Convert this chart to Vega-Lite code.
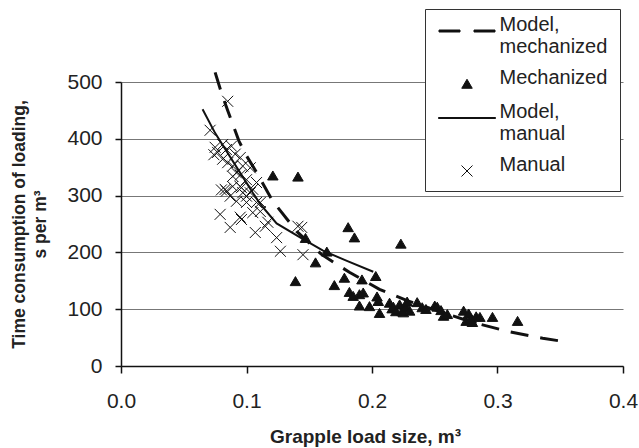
{
  "$schema": "https://vega.github.io/schema/vega-lite/v6.json",
  "width": 502,
  "height": 284,
  "autosize": {"type": "none"},
  "padding": {"left": 121, "top": 82, "right": 16, "bottom": 82},
  "background": "white",
  "config": {"view": {"stroke": null}, "font": "Liberation Sans"},
  "datasets": {
    "mech": [
      {"x": 0.075, "y": 517}, {"x": 0.080, "y": 481}, {"x": 0.0853, "y": 448}, {"x": 0.094, "y": 396},
      {"x": 0.100, "y": 370}, {"x": 0.108, "y": 341}, {"x": 0.121, "y": 290}, {"x": 0.140, "y": 237},
      {"x": 0.160, "y": 196}, {"x": 0.182, "y": 165}, {"x": 0.206, "y": 135}, {"x": 0.228, "y": 115},
      {"x": 0.254, "y": 96}, {"x": 0.280, "y": 77}, {"x": 0.310, "y": 60}, {"x": 0.336, "y": 49},
      {"x": 0.350, "y": 44}
    ],
    "man": [
      {"x": 0.065, "y": 452}, {"x": 0.075, "y": 410}, {"x": 0.085, "y": 375}, {"x": 0.095, "y": 340},
      {"x": 0.105, "y": 305}, {"x": 0.111, "y": 285}, {"x": 0.124, "y": 251}, {"x": 0.143, "y": 226},
      {"x": 0.161, "y": 203}, {"x": 0.180, "y": 185}, {"x": 0.201, "y": 166}
    ],
    "points": [
      {"series": "Mechanized", "x": 0.121, "y": 335}, {"series": "Mechanized", "x": 0.141, "y": 333},
      {"series": "Mechanized", "x": 0.147, "y": 225}, {"series": "Mechanized", "x": 0.139, "y": 149},
      {"series": "Mechanized", "x": 0.155, "y": 182}, {"series": "Mechanized", "x": 0.164, "y": 201},
      {"series": "Mechanized", "x": 0.170, "y": 142}, {"series": "Mechanized", "x": 0.178, "y": 155},
      {"series": "Mechanized", "x": 0.181, "y": 244}, {"series": "Mechanized", "x": 0.186, "y": 226},
      {"series": "Mechanized", "x": 0.182, "y": 130}, {"series": "Mechanized", "x": 0.185, "y": 123},
      {"series": "Mechanized", "x": 0.190, "y": 106}, {"series": "Mechanized", "x": 0.190, "y": 126},
      {"series": "Mechanized", "x": 0.192, "y": 152}, {"series": "Mechanized", "x": 0.193, "y": 129},
      {"series": "Mechanized", "x": 0.198, "y": 105}, {"series": "Mechanized", "x": 0.203, "y": 158},
      {"series": "Mechanized", "x": 0.204, "y": 122}, {"series": "Mechanized", "x": 0.205, "y": 114},
      {"series": "Mechanized", "x": 0.206, "y": 93}, {"series": "Mechanized", "x": 0.214, "y": 111},
      {"series": "Mechanized", "x": 0.216, "y": 101}, {"series": "Mechanized", "x": 0.217, "y": 104},
      {"series": "Mechanized", "x": 0.219, "y": 96}, {"series": "Mechanized", "x": 0.222, "y": 108},
      {"series": "Mechanized", "x": 0.223, "y": 215}, {"series": "Mechanized", "x": 0.224, "y": 96},
      {"series": "Mechanized", "x": 0.225, "y": 94}, {"series": "Mechanized", "x": 0.227, "y": 104},
      {"series": "Mechanized", "x": 0.228, "y": 113}, {"series": "Mechanized", "x": 0.230, "y": 97},
      {"series": "Mechanized", "x": 0.236, "y": 112}, {"series": "Mechanized", "x": 0.240, "y": 103},
      {"series": "Mechanized", "x": 0.243, "y": 100}, {"series": "Mechanized", "x": 0.250, "y": 106},
      {"series": "Mechanized", "x": 0.252, "y": 104}, {"series": "Mechanized", "x": 0.255, "y": 98},
      {"series": "Mechanized", "x": 0.257, "y": 88}, {"series": "Mechanized", "x": 0.260, "y": 91},
      {"series": "Mechanized", "x": 0.273, "y": 97}, {"series": "Mechanized", "x": 0.275, "y": 79},
      {"series": "Mechanized", "x": 0.277, "y": 92}, {"series": "Mechanized", "x": 0.279, "y": 83},
      {"series": "Mechanized", "x": 0.280, "y": 77}, {"series": "Mechanized", "x": 0.283, "y": 87},
      {"series": "Mechanized", "x": 0.286, "y": 86}, {"series": "Mechanized", "x": 0.296, "y": 86},
      {"series": "Mechanized", "x": 0.316, "y": 79},
      {"series": "Manual", "x": 0.085, "y": 466}, {"series": "Manual", "x": 0.071, "y": 415},
      {"series": "Manual", "x": 0.074, "y": 372}, {"series": "Manual", "x": 0.075, "y": 385},
      {"series": "Manual", "x": 0.077, "y": 376}, {"series": "Manual", "x": 0.081, "y": 390},
      {"series": "Manual", "x": 0.084, "y": 381}, {"series": "Manual", "x": 0.088, "y": 387},
      {"series": "Manual", "x": 0.091, "y": 373}, {"series": "Manual", "x": 0.081, "y": 364},
      {"series": "Manual", "x": 0.085, "y": 358}, {"series": "Manual", "x": 0.089, "y": 352},
      {"series": "Manual", "x": 0.095, "y": 367}, {"series": "Manual", "x": 0.097, "y": 352},
      {"series": "Manual", "x": 0.092, "y": 340}, {"series": "Manual", "x": 0.089, "y": 334},
      {"series": "Manual", "x": 0.095, "y": 336}, {"series": "Manual", "x": 0.100, "y": 328},
      {"series": "Manual", "x": 0.083, "y": 311}, {"series": "Manual", "x": 0.087, "y": 299},
      {"series": "Manual", "x": 0.089, "y": 316}, {"series": "Manual", "x": 0.095, "y": 316},
      {"series": "Manual", "x": 0.097, "y": 305}, {"series": "Manual", "x": 0.100, "y": 299},
      {"series": "Manual", "x": 0.105, "y": 311}, {"series": "Manual", "x": 0.108, "y": 288},
      {"series": "Manual", "x": 0.079, "y": 267}, {"series": "Manual", "x": 0.087, "y": 244},
      {"series": "Manual", "x": 0.096, "y": 258}, {"series": "Manual", "x": 0.107, "y": 235},
      {"series": "Manual", "x": 0.105, "y": 270}, {"series": "Manual", "x": 0.108, "y": 323},
      {"series": "Manual", "x": 0.103, "y": 349}, {"series": "Manual", "x": 0.084, "y": 308},
      {"series": "Manual", "x": 0.096, "y": 314}, {"series": "Manual", "x": 0.103, "y": 305},
      {"series": "Manual", "x": 0.111, "y": 288}, {"series": "Manual", "x": 0.100, "y": 288},
      {"series": "Manual", "x": 0.095, "y": 262}, {"series": "Manual", "x": 0.115, "y": 246},
      {"series": "Manual", "x": 0.124, "y": 226}, {"series": "Manual", "x": 0.127, "y": 202},
      {"series": "Manual", "x": 0.141, "y": 246}, {"series": "Manual", "x": 0.145, "y": 196},
      {"series": "Manual", "x": 0.111, "y": 272}, {"series": "Manual", "x": 0.117, "y": 253},
      {"series": "Manual", "x": 0.144, "y": 244}, {"series": "Manual", "x": 0.080, "y": 310},
      {"series": "Manual", "x": 0.092, "y": 290}
    ]
  },
  "encoding": {
    "x": {
      "field": "x", "type": "quantitative",
      "scale": {"domain": [0, 0.4], "nice": false, "zero": false},
      "axis": {
        "values": [0, 0.1, 0.2, 0.3, 0.4], "format": ".1f", "grid": false,
        "domainColor": "#111", "domainWidth": 1.5, "tickColor": "#111", "tickSize": 7, "tickWidth": 1.5,
        "labelFontSize": 21, "labelColor": "#222", "labelBaseline": "alphabetic", "labelPadding": 34,
        "labelFlush": false, "labelOverlap": false,
        "title": "Grapple load size, m³", "titleFontSize": 19, "titleFontWeight": "bold", "titleColor": "#222",
        "titleX": 244, "titleY": 76, "titleBaseline": "alphabetic", "titleAlign": "center"
      }
    },
    "y": {
      "field": "y", "type": "quantitative",
      "scale": {"domain": [0, 500], "nice": false},
      "axis": {
        "values": [0, 100, 200, 300, 400, 500], "grid": true, "gridColor": "#777", "gridWidth": 1,
        "domainColor": "#111", "domainWidth": 1.5, "tickColor": "#111", "tickSize": 6, "tickWidth": 1.5,
        "labelFontSize": 21, "labelColor": "#222", "labelPadding": 13,
        "title": ["Time consumption of loading,", "s per m³"], "titleFontSize": 17.5, "titleFontWeight": "bold",
        "titleColor": "#222", "titleX": -111, "titleY": 142, "titleAngle": -90, "titleBaseline": "top",
        "titleAlign": "center", "titleLineHeight": 21
      }
    }
  },
  "layer": [
    {
      "data": {"name": "mech"},
      "mark": {"type": "line", "color": "#111", "strokeWidth": 3, "strokeDash": [18, 12]}
    },
    {
      "data": {"name": "man"},
      "mark": {"type": "line", "color": "#111", "strokeWidth": 2}
    },
    {
      "data": {"name": "points"},
      "mark": {"type": "point", "filled": true, "fill": "#111", "stroke": "#111", "strokeWidth": 1, "opacity": 1, "size": 100},
      "encoding": {
        "shape": {
          "field": "series", "type": "nominal",
          "scale": {
            "domain": ["Model, mechanized", "Mechanized", "Model, manual", "Manual"],
            "range": [
              "M-5.6,-0.2H-1.4V0.2H-5.6ZM1.4,-0.2H5.6V0.2H1.4Z",
              "M0,-0.95L1.05,0.85L-1.05,0.85Z",
              "M-5.7,-0.1H5.7V0.1H-5.7Z",
              "M-1.1,-1.1L1.1,1.1M-1.1,1.1L1.1,-1.1"
            ]
          },
          "legend": {
            "title": null, "orient": "none", "legendX": 304, "legendY": -73,
            "fillColor": "white", "strokeColor": "#333", "padding": 12,
            "labelFontSize": 20, "labelColor": "#222", "labelLimit": 300, "labelBaseline": "alphabetic",
            "labelExpr": "datum.label == 'Model, mechanized' ? ['Model,', 'mechanized'] : datum.label == 'Model, manual' ? ['Model,', 'manual'] : datum.label",
            "symbolSize": 100, "symbolOffset": 20, "labelOffset": 22.5, "rowPadding": 11,
            "symbolStrokeWidth": 1,
            "encode": {
              "legend": {"update": {"strokeWidth": {"value": 1.5}}},
              "symbols": {"update": {
                "fill": {"value": "#111"}, "stroke": {"value": "#111"}, "strokeWidth": {"value": 1}, "opacity": {"value": 1}
              }},
              "labels": {"update": {"dy": {"value": 1}, "lineHeight": {"value": 23}}}
            }
          }
        }
      }
    }
  ]
}
